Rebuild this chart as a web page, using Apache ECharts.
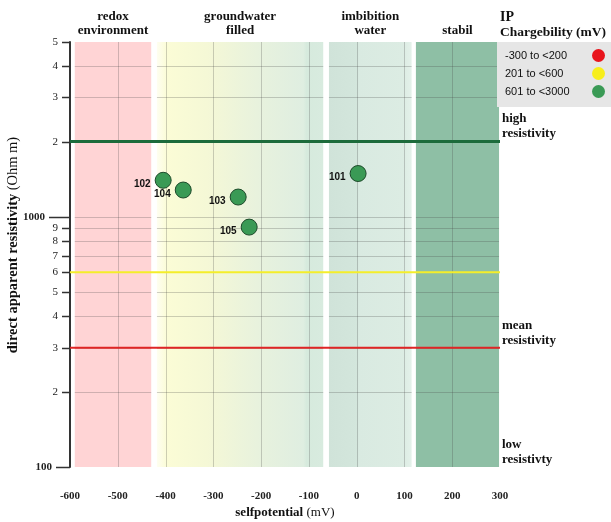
<!DOCTYPE html>
<html>
<head>
<meta charset="utf-8">
<script src="https://cdn.jsdelivr.net/npm/echarts@6/dist/echarts.min.js"></script>
<style>
  html, body { margin: 0; padding: 0; background: #ffffff; }
  #chart { width: 611px; height: 522px; }
</style>
</head>
<body>
<div id="chart"></div>
<script>
// Survey stations: self potential (mV) vs. direct apparent resistivity (Ohm m)
const pointIds = ['101', '102', '103', '104', '105'];
const selfPotential = [3, -405, -248, -363, -225];
const resistivity = [1490, 1400, 1200, 1280, 910];

// Interpretation zones along the self-potential axis (mV)
const zoneNames = ['redox\nenvironment', 'groundwater\nfilled', 'imbibition\nwater', 'stabil'];
const zoneFrom = [-590, -418, -58, 124];
const zoneTo = [-430, -70, 115, 298];

// Resistivity threshold lines (Ohm m)
const thresholdValues = [2000, 600, 300];

// Resistivity class labels on the right, anchored at these values
const classNames = ['high\nresistivity', 'mean\nresistivity', 'low\nresistivty'];
const classValues = [2000, 300, 100];

// Log axis ticks and their labels
const yTickValues = [100, 200, 300, 400, 500, 600, 700, 800, 900, 1000, 2000, 3000, 4000, 5000];
const yTickLabels = ['100', '2', '3', '4', '5', '6', '7', '8', '9', '1000', '2', '3', '4', '5'];
const xGridValues = [-500, -400, -300, -200, -100, 0, 100, 200];

// IP chargeability classes
const ipClasses = ['-300 to <200', '201 to <600', '601 to <3000'];

const X_MIN = -600, X_MAX = 300, Y_MIN = 100, Y_MAX = 5000;
const SERIF = '"Liberation Serif", "Times New Roman", serif';
const SANS = '"Liberation Sans", Arial, sans-serif';

const zoneFills = [
  '#ffd4d5',
  new echarts.graphic.LinearGradient(0, 0, 1, 0, [
    { offset: 0, color: '#fefef0' },
    { offset: 0.06, color: '#fbfcd6' },
    { offset: 0.3, color: '#f5f8d6' },
    { offset: 0.6, color: '#e8f2dd' },
    { offset: 0.88, color: '#dfeee1' },
    { offset: 0.9, color: '#d6eadd' },
    { offset: 1, color: '#d8ebdf' }
  ]),
  new echarts.graphic.LinearGradient(0, 0, 1, 0, [
    { offset: 0, color: '#d0e3d9' },
    { offset: 0.35, color: '#d3e6dc' },
    { offset: 0.36, color: '#d9eae1' },
    { offset: 0.9, color: '#dcece3' },
    { offset: 1, color: '#e4f1ea' }
  ]),
  '#8ebfa5'
];
const gridColor = 'rgba(70,70,70,0.26)';
const thresholdColors = ['#1c6b3b', '#f4ee2a', '#e02525'];
const thresholdWidths = [3, 2, 2];
const ipColors = ['#e8141c', '#f7ee1a', '#3a9a55'];

const chart = echarts.init(document.getElementById('chart'), null, { renderer: 'canvas' });

const legendSeries = ipClasses.map((name, i) => ({
  name: name,
  type: 'scatter',
  data: [],
  itemStyle: { color: ipColors[i], opacity: 1 }
}));

const option = {
  animation: false,
  backgroundColor: '#ffffff',
  grid: { left: 70, right: 111, top: 42, bottom: 55 },
  xAxis: {
    type: 'value',
    min: X_MIN,
    max: X_MAX,
    interval: 100,
    axisLine: { show: false, onZero: false },
    axisTick: { show: false },
    splitLine: { show: false },
    axisLabel: {
      margin: 24,
      fontFamily: SERIF,
      fontWeight: 'bold',
      fontSize: 11,
      color: '#222'
    }
  },
  yAxis: {
    type: 'log',
    logBase: 10,
    min: Y_MIN,
    max: Y_MAX,
    axisLine: { show: true, onZero: false, lineStyle: { color: '#333', width: 2 } },
    axisTick: { show: false },
    axisLabel: { show: false },
    splitLine: { show: false }
  },
  legend: {
    data: ipClasses,
    orient: 'vertical',
    left: 497,
    top: 42,
    align: 'right',
    icon: 'circle',
    itemWidth: 13,
    itemHeight: 13,
    itemGap: 5,
    padding: [7, 6, 9, 8],
    backgroundColor: '#e6e6e6',
    itemStyle: { borderWidth: 0, opacity: 1 },
    formatter: name => '{t|' + name + '}',
    textStyle: {
      fontFamily: SANS, fontSize: 11, color: '#111',
      rich: { t: { width: 82, align: 'left', fontFamily: SANS, fontSize: 11, color: '#111' } }
    }
  },
  graphic: [
    {
      type: 'text', left: 500, top: 10,
      style: { text: 'IP', font: 'bold 14px ' + SERIF, fill: '#111' }
    },
    {
      type: 'text', left: 500, top: 26,
      style: { text: 'Chargebility (mV)', font: 'bold 13.5px ' + SERIF, fill: '#111' }
    },
    {
      type: 'text',
      x: 13, y: 245,
      rotation: Math.PI / 2,
      style: {
        text: '{b|direct apparent resistivity} {n|(Ohm m)}',
        align: 'center',
        verticalAlign: 'middle',
        rich: {
          b: { font: 'bold 14.5px ' + SERIF, fill: '#111' },
          n: { font: '14.5px ' + SERIF, fill: '#111' }
        }
      }
    },
    {
      type: 'text',
      x: 285, y: 513,
      style: {
        text: '{b|selfpotential} {n|(mV)}',
        align: 'center',
        verticalAlign: 'middle',
        rich: {
          b: { font: 'bold 13px ' + SERIF, fill: '#111' },
          n: { font: '13px ' + SERIF, fill: '#111' }
        }
      }
    }
  ],
  series: [
    // zone bands with their own grid lines and header labels
    {
      type: 'custom',
      z: 1,
      silent: true,
      data: zoneFrom.map((f, i) => [f, zoneTo[i], i]),
      renderItem: function (params, api) {
        const from = api.value(0), to = api.value(1), idx = api.value(2);
        const tl = api.coord([from, Y_MAX]);
        const br = api.coord([to, Y_MIN]);
        const children = [{
          type: 'rect',
          shape: { x: tl[0], y: tl[1], width: br[0] - tl[0], height: br[1] - tl[1] },
          style: { fill: zoneFills[idx] }
        }];
        yTickValues.forEach(v => {
          if (v <= Y_MIN || v >= Y_MAX) return;
          const y = Math.round(api.coord([from, v])[1]) + 0.5;
          children.push({
            type: 'line',
            shape: { x1: tl[0], y1: y, x2: br[0], y2: y },
            style: { stroke: gridColor, lineWidth: 1 }
          });
        });
        xGridValues.forEach(v => {
          if (v <= from || v >= to) return;
          const x = Math.round(api.coord([v, Y_MIN])[0]) + 0.5;
          children.push({
            type: 'line',
            shape: { x1: x, y1: tl[1], x2: x, y2: br[1] },
            style: { stroke: gridColor, lineWidth: 1 }
          });
        });
        const cx = (tl[0] + br[0]) / 2;
        children.push({
          type: 'text',
          style: {
            text: zoneNames[idx],
            x: cx, y: tl[1] - 4,
            align: 'center',
            verticalAlign: 'bottom',
            lineHeight: 14,
            font: 'bold 13px ' + SERIF,
            fill: '#111'
          }
        });
        return { type: 'group', children: children };
      }
    },
    // resistivity thresholds
    {
      type: 'custom',
      z: 3,
      silent: true,
      data: thresholdValues.map((v, i) => [X_MIN, v, i]),
      renderItem: function (params, api) {
        const v = api.value(1), idx = api.value(2);
        const a = api.coord([X_MIN, v]);
        const b = api.coord([X_MAX, v]);
        return {
          type: 'line',
          shape: { x1: a[0], y1: a[1], x2: b[0], y2: b[1] },
          style: { stroke: thresholdColors[idx], lineWidth: thresholdWidths[idx] }
        };
      }
    },
    // resistivity class labels
    {
      type: 'custom',
      z: 3,
      silent: true,
      data: classValues.map((v, i) => [X_MAX, v, i]),
      renderItem: function (params, api) {
        const p = api.coord([X_MAX, api.value(1)]);
        return {
          type: 'text',
          style: {
            text: classNames[api.value(2)],
            x: p[0] + 2, y: p[1],
            align: 'left',
            verticalAlign: 'bottom',
            lineHeight: 15,
            font: 'bold 13px ' + SERIF,
            fill: '#111'
          }
        };
      }
    },
    // y-axis ticks and labels
    {
      type: 'custom',
      z: 4,
      silent: true,
      data: yTickValues.map((v, i) => [X_MIN, v, i]),
      renderItem: function (params, api) {
        const v = api.value(1), idx = api.value(2);
        const p = api.coord([X_MIN, v]);
        const y = Math.round(p[1]) + 0.5;
        const tickLen = v === 1000 ? 21 : (v === 100 ? 14 : 8);
        const major = v === 1000 || v === 100;
        return {
          type: 'group',
          children: [
            {
              type: 'line',
              shape: { x1: p[0] - tickLen, y1: y, x2: p[0], y2: y },
              style: { stroke: '#333', lineWidth: 1.5 }
            },
            {
              type: 'text',
              style: {
                text: yTickLabels[idx],
                x: p[0] - tickLen - 4, y: y,
                align: 'right',
                verticalAlign: 'middle',
                font: (major ? 'bold 11px ' : '11px ') + SERIF,
                fill: '#222'
              }
            }
          ]
        };
      }
    },
    ...legendSeries.slice(0, 2),
    {
      name: ipClasses[2],
      type: 'scatter',
      z: 5,
      symbol: 'circle',
      symbolSize: 16,
      data: selfPotential.map((x, i) => [x, resistivity[i], pointIds[i]]),
      itemStyle: { color: ipColors[2], borderColor: '#1d4a2a', borderWidth: 1, opacity: 1 },
      label: {
        show: true,
        position: 'left',
        distance: 4,
        offset: [0, 4],
        formatter: p => p.data[2],
        fontFamily: SANS,
        fontWeight: 'bold',
        fontSize: 10,
        color: '#111'
      }
    }
  ]
};

chart.setOption(option);
</script>
</body>
</html>
